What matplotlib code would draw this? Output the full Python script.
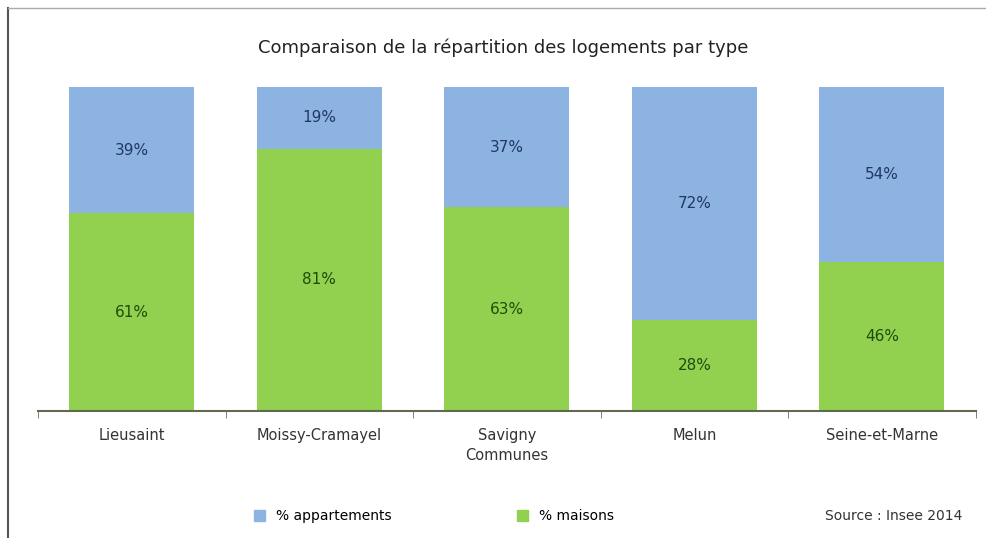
import matplotlib.pyplot as plt
from matplotlib.patches import Patch

communes = ['Lieusaint', 'Moissy-Cramayel', 'Savigny', 'Melun', 'Seine-et-Marne']
maisons = [61, 81, 63, 28, 46]
appartements = [39, 19, 37, 72, 54]

BLUE = '#8db3e2'
GREEN = '#92d050'

fig = plt.figure(figsize=(9.87, 5.38), dpi=100)
ax = fig.add_axes([0.0385, 0.236, 0.95, 0.602])

x = range(len(communes))
ax.bar(x, maisons, width=0.667, color=GREEN)
ax.bar(x, appartements, width=0.667, bottom=maisons, color=BLUE)

for i in x:
    ax.text(i, maisons[i] / 2, f'{maisons[i]}%', ha='center', va='center',
            fontsize=11, color='#1e4d0a')
    ax.text(i, maisons[i] + appartements[i] / 2, f'{appartements[i]}%',
            ha='center', va='center', fontsize=11, color='#1f3864')

ax.set_xlim(-0.5, len(communes) - 0.5)
ax.set_ylim(0, 100)
ax.set_yticks([])
for side in ['top', 'right', 'left']:
    ax.spines[side].set_visible(False)
ax.spines['bottom'].set_color('#5f6b4f')
ax.spines['bottom'].set_linewidth(1.5)

# category labels sit between tick marks placed on the boundaries
ax.set_xticks(list(x))
ax.set_xticklabels(communes, fontsize=10.5, color='#333333')
ax.tick_params(axis='x', length=0, pad=12)
ax.set_xticks([i + 0.5 for i in range(-1, len(communes))], minor=True)
ax.tick_params(axis='x', which='minor', length=5, color='#6b6b6b')
ax.set_xlabel('Communes', fontsize=10.5, color='#333333', labelpad=4)

fig.text(0.51, 0.912, 'Comparaison de la répartition des logements par type',
         ha='center', va='center', fontsize=13, color='#222222')

handles = [Patch(color=BLUE, label='% appartements'),
           Patch(color=GREEN, label='% maisons')]
fig.legend(handles=handles, loc='center', bbox_to_anchor=(0.44, 0.04), ncol=2,
           frameon=False, fontsize=10, columnspacing=9, handlelength=0.8,
           handleheight=0.8)
fig.text(0.975, 0.04, 'Source : Insee 2014', ha='right', va='center',
         fontsize=10, color='#333333')

# thin frame on the left and top edges
fig.add_artist(plt.Line2D([0.008, 0.008], [0, 0.985], color='#555555', lw=1.5))
fig.add_artist(plt.Line2D([0.008, 1], [0.985, 0.985], color='#aaaaaa', lw=1))

fig.savefig('out.png', dpi=100)
